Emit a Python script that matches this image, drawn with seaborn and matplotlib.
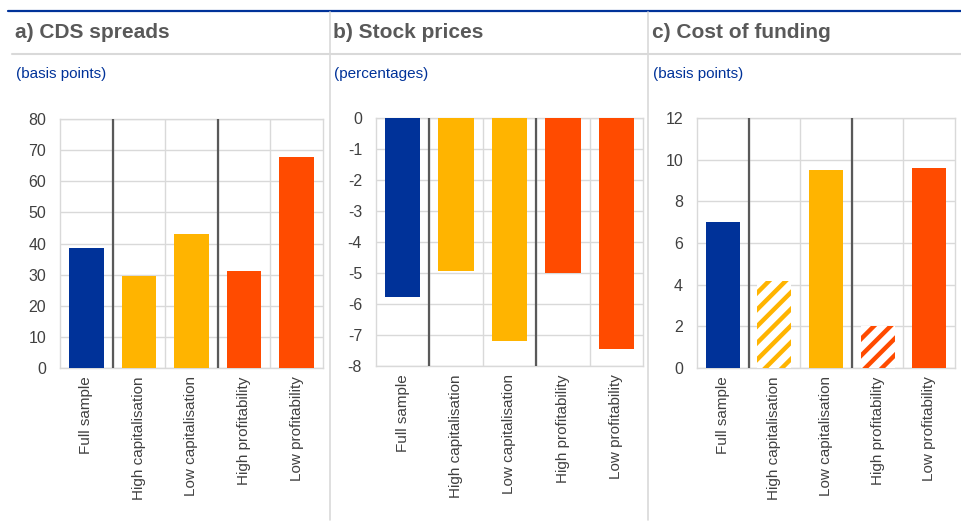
import matplotlib
matplotlib.use('Agg')
import matplotlib.pyplot as plt
import seaborn as sns
from matplotlib.lines import Line2D
from matplotlib.ticker import MultipleLocator

sns.set_theme(style='white')
plt.rcParams['font.family'] = ['Liberation Sans', 'DejaVu Sans']
plt.rcParams['hatch.linewidth'] = 3.2
plt.rcParams['axes.unicode_minus'] = False

# Data
categories = ['Full sample', 'High capitalisation', 'Low capitalisation',
              'High profitability', 'Low profitability']
cds_spreads = [38.6, 29.6, 43.1, 31.1, 67.9]
stock_prices = [-5.76, -4.93, -7.19, -5.01, -7.45]
cost_of_funding = [7.01, 4.17, 9.49, 2.04, 9.62]

titles = ['a) CDS spreads', 'b) Stock prices', 'c) Cost of funding']
units = ['(basis points)', '(percentages)', '(basis points)']

BLUE = '#003299'
YELLOW = '#FFB400'
RED = '#FF4B00'
bar_colors = [BLUE, YELLOW, YELLOW, RED, RED]
hatched = [[], [], [1, 3]]

GRID = '#d9d9d9'
DARK = '#595959'
TEXT = '#404040'

W, H = 962, 526
fig = plt.figure(figsize=(W / 100, H / 100), dpi=100)


def px(left, top, right, bottom):
    return [left / W, (H - bottom) / H, (right - left) / W, (bottom - top) / H]


axes_px = [(60, 119, 323, 368), (376, 118, 643, 366), (697, 118, 955, 368)]
ylims = [(0, 80), (-8, 0), (0, 12)]
ysteps = [10, 1, 2]
title_x = [15, 333, 652]
series = [cds_spreads, stock_prices, cost_of_funding]

# header decorations
fig.add_artist(Line2D([8 / W, 1], [1 - 10.5 / H] * 2, color=BLUE, lw=1.6))
fig.add_artist(Line2D([12 / W, 1], [1 - 53.5 / H] * 2, color=GRID, lw=1.5))
for xs in [330, 648]:
    fig.add_artist(Line2D([xs / W] * 2, [1 - 12 / H, 1 - 520 / H],
                          color=GRID, lw=1.2))

for i in range(3):
    fig.text(title_x[i] / W, 1 - 33 / H, titles[i], fontsize=15,
             fontweight='bold', color=DARK, va='center', ha='left')
    fig.text((title_x[i] + 1) / W, 1 - 74 / H, units[i], fontsize=11,
             color=BLUE, va='center', ha='left')

    ax = fig.add_axes(px(*axes_px[i]))
    sns.barplot(x=categories, y=series[i], hue=categories, palette=bar_colors,
                saturation=1, width=0.66, legend=False, linewidth=0, ax=ax,
                zorder=3)
    for j in hatched[i]:
        p = ax.patches[j]
        p.set_facecolor('white')
        p.set_edgecolor(bar_colors[j])
        p.set_hatch('//')
        p.set_linewidth(0)

    ax.set_xlim(-0.5, 4.5)
    ax.set_ylim(*ylims[i])
    ax.yaxis.set_major_locator(MultipleLocator(ysteps[i]))
    ax.set_xticks(range(5))
    ax.set_xticklabels(categories, rotation=90, fontsize=11, color=TEXT)
    ax.set_xticks([0.5, 1.5, 2.5, 3.5], minor=True)
    ax.tick_params(axis='y', labelsize=11.5, labelcolor=TEXT, length=0, pad=10)
    ax.tick_params(axis='x', length=0, pad=6)
    ax.tick_params(axis='x', which='minor', length=0)
    ax.grid(True, axis='y', which='major', color=GRID, lw=1, zorder=0)
    ax.grid(True, axis='x', which='minor', color=GRID, lw=1, zorder=0)
    ax.grid(False, axis='x', which='major')
    ax.set_axisbelow(True)
    for s in ax.spines.values():
        s.set_color(GRID)
        s.set_linewidth(1)
    for xv in [0.5, 2.5]:
        ax.axvline(xv, color=DARK, lw=1.6, zorder=4)
    ax.set_xlabel('')
    ax.set_ylabel('')

fig.savefig('out.png', dpi=100)
